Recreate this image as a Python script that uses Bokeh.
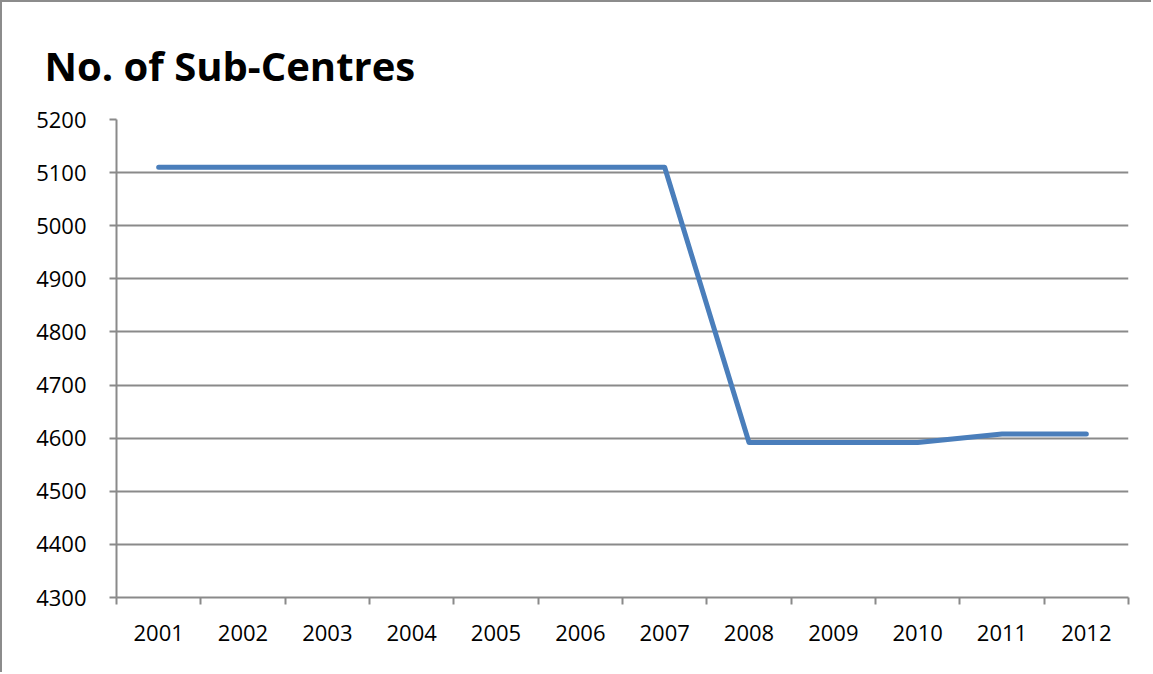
from bokeh.plotting import figure
from bokeh.models import FixedTicker, Range1d
from bokeh.embed import file_html
from bokeh.resources import INLINE

title = "No. of Sub-Centres"
years = [2001, 2002, 2003, 2004, 2005, 2006, 2007, 2008, 2009, 2010, 2011, 2012]
sub_centres = [5110, 5110, 5110, 5110, 5110, 5110, 5110, 4592, 4592, 4592, 4608, 4608]
y_ticks = [4300, 4400, 4500, 4600, 4700, 4800, 4900, 5000, 5100, 5200]

GRID = "#8a8a8a"
FONT = "Open Sans"

p = figure(width=1151, height=672, output_backend="svg", toolbar_location=None,
           x_range=Range1d(years[0] - 0.5, years[-1] + 0.5),
           y_range=Range1d(y_ticks[0], y_ticks[-1]),
           min_border_left=114, min_border_right=25, min_border_top=117, min_border_bottom=77)
p.styles = {"border-left": "2px solid #8c8c8c", "border-top": "2px solid #8c8c8c"}
p.background_fill_color = "white"
p.border_fill_color = "white"
p.outline_line_color = None

p.title.text = title
p.title.text_font = FONT
p.title.text_font_style = "bold"
p.title.text_font_size = "40px"
p.title.text_color = "black"
p.title.align = "left"
p.title.offset = -72
p.title.standoff = 53

p.line(years, sub_centres, line_color="#4A7EBB", line_width=5, line_join="round", line_cap="round")

# x axis: labels at category centres, ticks at category boundaries
xa = p.xaxis[0]
xa.ticker = FixedTicker(ticks=years, minor_ticks=[y - 0.5 for y in years] + [years[-1] + 0.5])
xa.major_tick_line_color = None
xa.major_tick_out = 0
xa.major_tick_in = 0
xa.minor_tick_out = 7
xa.minor_tick_in = 0
xa.minor_tick_line_color = GRID
xa.minor_tick_line_width = 2
xa.axis_line_color = GRID
xa.axis_line_width = 2
xa.major_label_text_font = FONT
xa.major_label_text_font_size = "22px"
xa.major_label_text_color = "black"
xa.major_label_standoff = 20

ya = p.yaxis[0]
ya.ticker = FixedTicker(ticks=y_ticks, minor_ticks=[])
ya.major_tick_out = 7
ya.major_tick_in = 0
ya.major_tick_line_color = GRID
ya.major_tick_line_width = 2
ya.axis_line_color = GRID
ya.axis_line_width = 2
ya.major_label_text_font = FONT
ya.major_label_text_font_size = "22px"
ya.major_label_text_color = "black"
ya.major_label_standoff = 23

p.xgrid.grid_line_color = None
p.ygrid.grid_line_color = GRID
p.ygrid.grid_line_width = 2
p.ygrid.ticker = FixedTicker(ticks=y_ticks)

open("out.html", "w").write(file_html(p, INLINE))
